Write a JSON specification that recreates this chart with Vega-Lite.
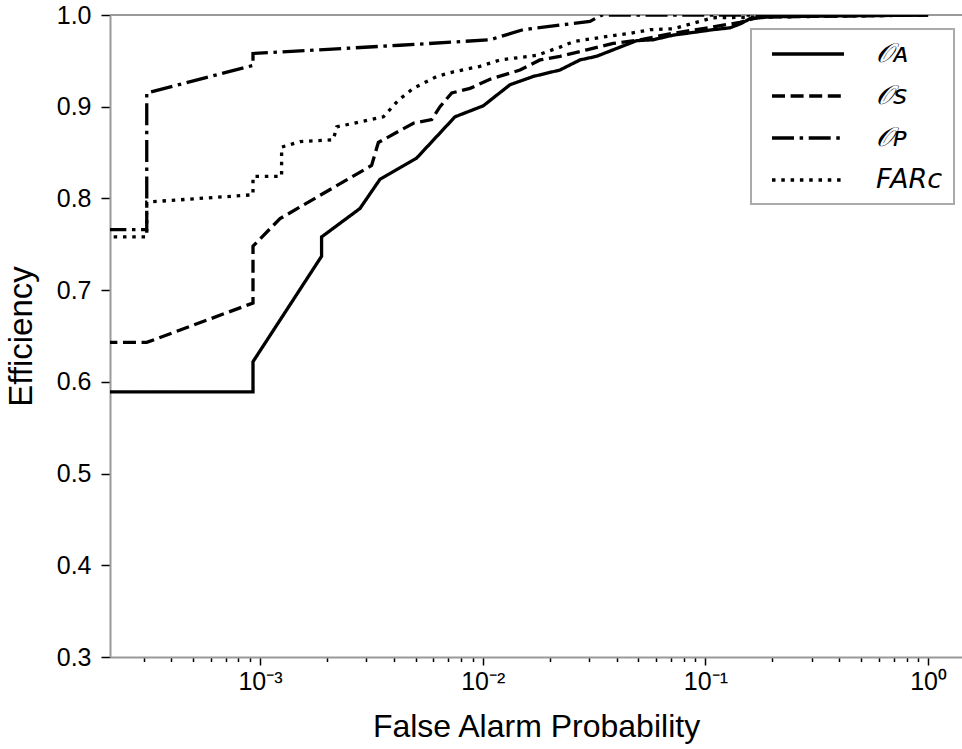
{
  "$schema": "https://vega.github.io/schema/vega-lite/v6.json",
  "width": 852,
  "height": 642,
  "autosize": {"type": "none"},
  "padding": {"left": 110, "top": 15, "right": 0, "bottom": 92},
  "background": "white",
  "config": {"view": {"stroke": null}, "font": "Liberation Sans"},
  "data": {"values": [
    {"series": "OA", "i": 1, "far": 0.0002, "eff": 0.589},
    {"series": "OA", "i": 2, "far": 0.00093, "eff": 0.589},
    {"series": "OA", "i": 3, "far": 0.00093, "eff": 0.622},
    {"series": "OA", "i": 4, "far": 0.00189, "eff": 0.737},
    {"series": "OA", "i": 5, "far": 0.00189, "eff": 0.758},
    {"series": "OA", "i": 6, "far": 0.00281, "eff": 0.789},
    {"series": "OA", "i": 7, "far": 0.00346, "eff": 0.821},
    {"series": "OA", "i": 8, "far": 0.00505, "eff": 0.844},
    {"series": "OA", "i": 9, "far": 0.00751, "eff": 0.889},
    {"series": "OA", "i": 10, "far": 0.01006, "eff": 0.901},
    {"series": "OA", "i": 11, "far": 0.01327, "eff": 0.924},
    {"series": "OA", "i": 12, "far": 0.01687, "eff": 0.933},
    {"series": "OA", "i": 13, "far": 0.0222, "eff": 0.940},
    {"series": "OA", "i": 14, "far": 0.02735, "eff": 0.951},
    {"series": "OA", "i": 15, "far": 0.0325, "eff": 0.955},
    {"series": "OA", "i": 16, "far": 0.0385, "eff": 0.962},
    {"series": "OA", "i": 17, "far": 0.0491, "eff": 0.972},
    {"series": "OA", "i": 18, "far": 0.0583, "eff": 0.973},
    {"series": "OA", "i": 19, "far": 0.0715, "eff": 0.978},
    {"series": "OA", "i": 20, "far": 0.0882, "eff": 0.981},
    {"series": "OA", "i": 21, "far": 0.108, "eff": 0.984},
    {"series": "OA", "i": 22, "far": 0.129, "eff": 0.986},
    {"series": "OA", "i": 23, "far": 0.1455, "eff": 0.991},
    {"series": "OA", "i": 24, "far": 0.1585, "eff": 0.996},
    {"series": "OA", "i": 25, "far": 0.195, "eff": 0.998},
    {"series": "OA", "i": 26, "far": 0.4, "eff": 0.999},
    {"series": "OA", "i": 27, "far": 1.0, "eff": 1.0},
    {"series": "OS", "i": 1, "far": 0.0002, "eff": 0.643},
    {"series": "OS", "i": 2, "far": 0.00031, "eff": 0.643},
    {"series": "OS", "i": 3, "far": 0.00093, "eff": 0.686},
    {"series": "OS", "i": 4, "far": 0.00093, "eff": 0.748},
    {"series": "OS", "i": 5, "far": 0.00123, "eff": 0.778},
    {"series": "OS", "i": 6, "far": 0.00317, "eff": 0.836},
    {"series": "OS", "i": 7, "far": 0.0034, "eff": 0.861},
    {"series": "OS", "i": 8, "far": 0.00488, "eff": 0.882},
    {"series": "OS", "i": 9, "far": 0.0059, "eff": 0.886},
    {"series": "OS", "i": 10, "far": 0.00643, "eff": 0.900},
    {"series": "OS", "i": 11, "far": 0.00726, "eff": 0.915},
    {"series": "OS", "i": 12, "far": 0.00877, "eff": 0.920},
    {"series": "OS", "i": 13, "far": 0.01079, "eff": 0.930},
    {"series": "OS", "i": 14, "far": 0.01471, "eff": 0.940},
    {"series": "OS", "i": 15, "far": 0.01808, "eff": 0.951},
    {"series": "OS", "i": 16, "far": 0.02224, "eff": 0.955},
    {"series": "OS", "i": 17, "far": 0.0293, "eff": 0.962},
    {"series": "OS", "i": 18, "far": 0.0385, "eff": 0.969},
    {"series": "OS", "i": 19, "far": 0.0508, "eff": 0.973},
    {"series": "OS", "i": 20, "far": 0.0715, "eff": 0.980},
    {"series": "OS", "i": 21, "far": 0.108, "eff": 0.987},
    {"series": "OS", "i": 22, "far": 0.143, "eff": 0.992},
    {"series": "OS", "i": 23, "far": 0.176, "eff": 0.998},
    {"series": "OS", "i": 24, "far": 1.0, "eff": 1.0},
    {"series": "OP", "i": 1, "far": 0.0002, "eff": 0.766},
    {"series": "OP", "i": 2, "far": 0.00031, "eff": 0.766},
    {"series": "OP", "i": 3, "far": 0.00031, "eff": 0.915},
    {"series": "OP", "i": 4, "far": 0.00093, "eff": 0.945},
    {"series": "OP", "i": 5, "far": 0.00093, "eff": 0.958},
    {"series": "OP", "i": 6, "far": 0.00425, "eff": 0.967},
    {"series": "OP", "i": 7, "far": 0.01079, "eff": 0.973},
    {"series": "OP", "i": 8, "far": 0.01517, "eff": 0.984},
    {"series": "OP", "i": 9, "far": 0.0303, "eff": 0.993},
    {"series": "OP", "i": 10, "far": 0.0343, "eff": 1.0},
    {"series": "OP", "i": 11, "far": 1.0, "eff": 1.0},
    {"series": "FAR", "i": 1, "far": 0.0002, "eff": 0.758},
    {"series": "FAR", "i": 2, "far": 0.00031, "eff": 0.758},
    {"series": "FAR", "i": 3, "far": 0.00031, "eff": 0.796},
    {"series": "FAR", "i": 4, "far": 0.00093, "eff": 0.804},
    {"series": "FAR", "i": 5, "far": 0.00093, "eff": 0.824},
    {"series": "FAR", "i": 6, "far": 0.00125, "eff": 0.824},
    {"series": "FAR", "i": 7, "far": 0.00125, "eff": 0.856},
    {"series": "FAR", "i": 8, "far": 0.001512, "eff": 0.862},
    {"series": "FAR", "i": 9, "far": 0.002133, "eff": 0.864},
    {"series": "FAR", "i": 10, "far": 0.00221, "eff": 0.878},
    {"series": "FAR", "i": 11, "far": 0.00358, "eff": 0.889},
    {"series": "FAR", "i": 12, "far": 0.00418, "eff": 0.907},
    {"series": "FAR", "i": 13, "far": 0.00488, "eff": 0.920},
    {"series": "FAR", "i": 14, "far": 0.00622, "eff": 0.933},
    {"series": "FAR", "i": 15, "far": 0.00738, "eff": 0.938},
    {"series": "FAR", "i": 16, "far": 0.00972, "eff": 0.944},
    {"series": "FAR", "i": 17, "far": 0.01196, "eff": 0.951},
    {"series": "FAR", "i": 18, "far": 0.01748, "eff": 0.956},
    {"series": "FAR", "i": 19, "far": 0.02224, "eff": 0.965},
    {"series": "FAR", "i": 20, "far": 0.02553, "eff": 0.971},
    {"series": "FAR", "i": 21, "far": 0.0348, "eff": 0.976},
    {"series": "FAR", "i": 22, "far": 0.04586, "eff": 0.980},
    {"series": "FAR", "i": 23, "far": 0.0564, "eff": 0.984},
    {"series": "FAR", "i": 24, "far": 0.0718, "eff": 0.985},
    {"series": "FAR", "i": 25, "far": 0.0853, "eff": 0.990},
    {"series": "FAR", "i": 26, "far": 0.1082, "eff": 0.997},
    {"series": "FAR", "i": 27, "far": 1.0, "eff": 1.0}
  ]},
  "layer": [
    {
      "data": {"values": [{"top": 1}]},
      "mark": {"type": "rule", "color": "#999999", "strokeWidth": 2},
      "encoding": {"y": {"field": "top", "type": "quantitative"}}
    },
    {
      "mark": {"type": "line", "color": "black", "strokeWidth": 3.3, "strokeCap": "butt", "clip": true},
      "encoding": {
        "x": {
          "field": "far", "type": "quantitative",
          "scale": {"type": "log", "domain": [0.000212, 1.42], "nice": false},
          "axis": {
            "title": "False Alarm Probability",
            "values": [0.0003, 0.0004, 0.0005, 0.0006, 0.0007, 0.0008, 0.0009, 0.001, 0.002, 0.003, 0.004, 0.005, 0.006, 0.007, 0.008, 0.009, 0.01, 0.02, 0.03, 0.04, 0.05, 0.06, 0.07, 0.08, 0.09, 0.1, 0.2, 0.3, 0.4, 0.5, 0.6, 0.7, 0.8, 0.9, 1],
            "labelExpr": "datum.value == 0.001 ? '10⁻³' : datum.value == 0.01 ? '10⁻²' : datum.value == 0.1 ? '10⁻¹' : datum.value == 1 ? '10⁰' : ''",
            "labelOverlap": false,
            "labelFlush": false,
            "labelFont": "Liberation Sans",
            "labelFontSize": 25,
            "labelColor": "black",
            "labelPadding": 4,
            "tickColor": "black",
            "tickWidth": 1.5,
            "tickSize": {"condition": {"test": "datum.value == 0.001 || datum.value == 0.01 || datum.value == 0.1 || datum.value == 1", "value": 8}, "value": 4.5},
            "domainColor": "#999999",
            "domainWidth": 2,
            "grid": false,
            "titleFont": "Liberation Sans",
            "titleFontSize": 32,
            "titleFontWeight": "normal",
            "titleColor": "black",
            "titlePadding": 17
          }
        },
        "y": {
          "field": "eff", "type": "quantitative",
          "scale": {"domain": [0.3, 1.0], "nice": false, "zero": false},
          "axis": {
            "title": "Efficiency",
            "values": [0.3, 0.4, 0.5, 0.6, 0.7, 0.8, 0.9, 1.0],
            "format": ".1f",
            "labelFont": "Liberation Sans",
            "labelFontSize": 25,
            "labelColor": "black",
            "labelPadding": 10,
            "tickColor": "black",
            "tickWidth": 1.5,
            "tickSize": 9,
            "domainColor": "#999999",
            "domainWidth": 2,
            "grid": false,
            "titleFont": "Liberation Sans",
            "titleFontSize": 33,
            "titleFontWeight": "normal",
            "titleColor": "black",
            "titlePadding": 18
          }
        },
        "strokeDash": {
          "field": "series", "type": "nominal",
          "scale": {"domain": ["OA", "OS", "OP", "FAR"], "range": [[1, 0], [13, 5.6], [22, 5.6, 3.5, 5.6], [3.5, 5.8]]},
          "legend": {
            "title": null,
            "orient": "none",
            "legendX": 641,
            "legendY": 14,
            "labelExpr": "datum.value == 'OA' ? '𝒪ᴀ' : datum.value == 'OS' ? '𝒪ꜱ' : datum.value == 'OP' ? '𝒪ᴘ' : 'FARᴄ'",
            "labelFont": "DejaVu Sans",
            "labelFontStyle": "italic",
            "labelFontSize": 27,
            "labelColor": "black",
            "labelOffset": 54,
            "symbolType": "M-3,0L3,0",
            "symbolSize": 576,
            "symbolStrokeWidth": 3.3,
            "symbolStrokeColor": "black",
            "symbolOffset": 32,
            "padding": 11,
            "rowPadding": 15,
            "strokeColor": "#aaaaaa",
            "fillColor": "white",
            "cornerRadius": 0,
            "encode": {"legend": {"update": {"strokeWidth": {"value": 2}}}}
          }
        },
        "order": {"field": "i", "type": "quantitative"}
      }
    }
  ]
}
